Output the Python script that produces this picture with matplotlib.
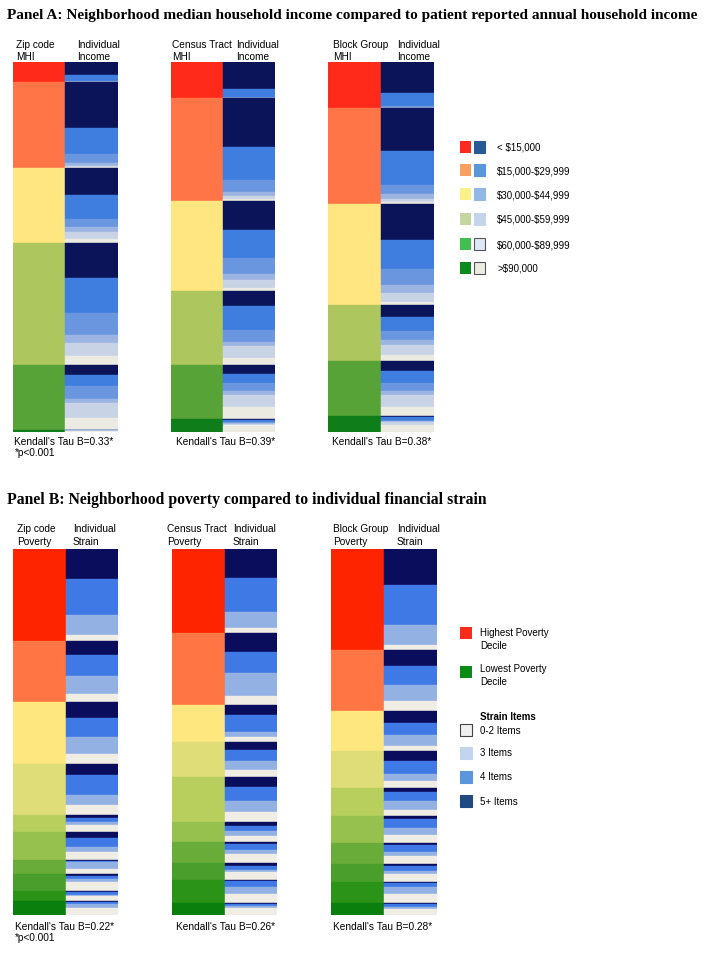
import numpy as np
import matplotlib.pyplot as plt
from matplotlib.patches import Rectangle

W, H = 704, 954

# ---- Panel A: neighborhood MHI shares (relative) ----
mhi_labels = ["< \\$15,000", "\\$15,000-\\$29,999", "\\$30,000-\\$44,999",
              "\\$45,000-\\$59,999", "\\$60,000-\\$89,999", ">\\$90,000"]
zip_mhi = [20, 86, 75, 122, 65, 2]
tract_mhi = [36, 103, 90, 74, 54, 13]
block_mhi = [46, 96, 101, 56, 55, 16]

# individual income split inside each neighborhood group (same 6 categories)
zip_income = [[66, 30, 4, 0, 0, 0],
              [53, 31, 10.5, 3, 1.5, 1],
              [36, 32, 11, 6, 9, 6],
              [29, 28.4, 18, 6.6, 10.9, 7.1],
              [16, 17, 19, 7, 22, 19],
              [0, 10, 10, 10, 30, 40]]
tract_income = [[76, 24, 0, 0, 0, 0],
                [48, 31.6, 11.7, 4, 2.6, 2.3],
                [32, 31, 18, 6, 8.5, 3.7],
                [20, 32, 16, 6, 16, 9],
                [17, 17, 15, 7, 23, 22],
                [5, 20, 5, 5, 15, 50]]
block_income = [[67, 28, 5, 0, 0, 0],
                [45, 35, 10, 5, 3, 2],
                [36, 28, 16.5, 8, 8.5, 3],
                [21, 26, 15.5, 8, 18, 11],
                [18, 22, 14, 8, 21, 16],
                [9, 20, 4, 4, 18, 45]]

# ---- Panel B: poverty deciles (1 = highest poverty) ----
zip_pov = [91.7, 61.6, 61.7, 51, 16.7, 28, 14.3, 16.7, 10, 14.3]
tract_pov = [84, 72, 36.7, 35.6, 44.4, 20, 21.3, 17, 23, 12]
block_pov = [100.7, 61.6, 40, 37, 27.4, 27.3, 21, 18.3, 20.7, 12]

# strain split (5+, 4, 3, 0-2 items) inside each decile
zip_strain = [[32.7, 39.3, 21.5, 6.5], [23, 34.6, 28.6, 13.5],
              [26, 31, 26, 17], [21, 40, 19.6, 19.6], [16, 24, 20, 40],
              [24, 32, 15, 29], [9, 9, 47, 35], [14, 16, 16, 54],
              [10, 33, 13, 44], [12, 14, 23, 51]]
tract_strain = [[35, 40.5, 19, 5.5], [26, 30, 32, 12],
                [27, 45.5, 15, 12], [22, 31, 25, 21.5], [22.5, 30, 25, 22.5],
                [23, 22, 25, 30], [9, 28, 20, 42], [16, 23.5, 16, 45],
                [4, 27.5, 29, 39], [5.5, 22, 17, 55.5]]
block_strain = [[35.4, 40, 19.5, 5], [26, 31.4, 26.5, 16.2],
                [29, 30, 27, 14], [25, 36, 18, 21], [15, 30, 33, 22],
                [12, 34, 24, 29], [9.5, 32, 19, 40], [9, 27, 18, 45],
                [3, 21, 32, 44], [11, 22, 17, 50]]
strain_labels = ["0-2 Items", "3 Items", "4 Items", "5+ Items"]

# colours
mhi_colors = ["#ff2a1a", "#ff7548", "#ffe680", "#aec65e", "#58a338", "#0f7d1a"]
income_colors = ["#0b1459", "#3f7ddf", "#6a96df", "#9bb4e2", "#c8d3e6", "#ecebe2"]
pov_colors = ["#ff2400", "#ff7543", "#ffe780", "#dfdd78", "#b8cf5e",
              "#96c14e", "#6aac3a", "#4a9f2c", "#2a9318", "#0b7f0e"]
strain_colors = ["#0a0c5c", "#3f79e6", "#93b1e3", "#efede4"]

plt.rcParams['font.family'] = ['Liberation Sans', 'DejaVu Sans']
fig = plt.figure(figsize=(W / 100, H / 100), dpi=100)

# overlay axes in pixel coordinates for text and legends
ax0 = fig.add_axes([0, 0, 1, 1])
ax0.set_xlim(0, W)
ax0.set_ylim(H, 0)
ax0.axis('off')


def px_rect(x0, y0, x1, y1):
    return [x0 / W, 1 - y1 / H, (x1 - x0) / W, (y1 - y0) / H]


def draw_pair(rect, groups, group_colors, splits, split_colors):
    ax = fig.add_axes(px_rect(*rect))
    sizes = np.asarray(groups, float)
    sizes = sizes / sizes.sum() * 100
    bottoms = np.concatenate([[0], np.cumsum(sizes)[:-1]])
    ax.bar(np.full(len(sizes), 0.5), sizes, bottom=bottoms, width=1,
           color=group_colors, edgecolor=group_colors, linewidth=0.3)
    for size, bottom, split in zip(sizes, bottoms, splits):
        sp = np.asarray(split, float)
        sp = sp / sp.sum() * size
        sb = bottom + np.concatenate([[0], np.cumsum(sp)[:-1]])
        ax.bar(np.full(len(sp), 1.5), sp, bottom=sb, width=1,
               color=split_colors, edgecolor=split_colors, linewidth=0.3)
    ax.set_xlim(0, 2)
    ax.set_ylim(100, 0)
    ax.axis('off')


fs = 7.3
ls = 1.28

# ---- Panel A ----
ax0.text(7, 15, "Panel A: Neighborhood median household income compared to patient reported annual household income",
         family='Liberation Serif', weight='bold', fontsize=11, va='center', ha='left')

draw_pair((12.7, 63, 117.5, 433), zip_mhi, mhi_colors, zip_income, income_colors)
draw_pair((170.7, 63, 275.3, 433), tract_mhi, mhi_colors, tract_income, income_colors)
draw_pair((328.3, 63, 434, 433), block_mhi, mhi_colors, block_income, income_colors)

heads_a = [(16, "Zip code\nMHI", 77, "Individual\nIncome"),
           (172, "Census Tract\nMHI", 236, "Individual\nIncome"),
           (333, "Block Group\nMHI", 397, "Individual\nIncome")]
for x1, t1, x2, t2 in heads_a:
    ax0.text(x1, 51, t1, fontsize=fs, va='center', ha='left', linespacing=ls)
    ax0.text(x2, 51, t2, fontsize=fs, va='center', ha='left', linespacing=ls)

ax0.text(14.5, 442, "Kendall's Tau B=0.33*", fontsize=fs, va='center')
ax0.text(14.5, 453, "*p<0.001", fontsize=fs, va='center')
ax0.text(176, 442, "Kendall's Tau B=0.39*", fontsize=fs, va='center')
ax0.text(332, 442, "Kendall's Tau B=0.38*", fontsize=fs, va='center')

legend_rows = [148, 171, 195, 220, 245, 269]
legend_left = ["#ff2a1f", "#f9a060", "#fbf08a", "#c5d6a0", "#3fc04f", "#0b8a1e"]
legend_right = ["#2a5a95", "#5a96dc", "#92b8e6", "#c2d5ec", "#dde8f4", "#ecece4"]
for i, (yc, lab) in enumerate(zip(legend_rows, mhi_labels)):
    ax0.add_patch(Rectangle((459.5, yc - 5.8), 11.5, 11.5, color=legend_left[i], lw=0))
    edge = "#555555" if i >= 4 else legend_right[i]
    ax0.add_patch(Rectangle((473.5, yc - 5.8), 11.5, 11.5, facecolor=legend_right[i],
                            edgecolor=edge, lw=0.8))
    ax0.text(497, yc, lab, fontsize=7, va='center')

# ---- Panel B ----
ax0.text(7, 500, "Panel B: Neighborhood poverty compared to individual financial strain",
         family='Liberation Serif', weight='bold', fontsize=11.3, va='center', ha='left')

draw_pair((12.7, 550, 118.3, 916), zip_pov, pov_colors, zip_strain, strain_colors)
draw_pair((171.7, 550, 277.3, 916), tract_pov, pov_colors, tract_strain, strain_colors)
draw_pair((330.7, 550, 437.3, 916), block_pov, pov_colors, block_strain, strain_colors)

heads_b = [(17, "Zip code\nPoverty", 73, "Individual\nStrain"),
           (167, "Census Tract\nPoverty", 233, "Individual\nStrain"),
           (333, "Block Group\nPoverty", 397, "Individual\nStrain")]
for x1, t1, x2, t2 in heads_b:
    ax0.text(x1, 535.5, t1, fontsize=fs, va='center', ha='left', linespacing=ls)
    ax0.text(x2, 535.5, t2, fontsize=fs, va='center', ha='left', linespacing=ls)

ax0.text(15, 927, "Kendall's Tau B=0.22*", fontsize=fs, va='center')
ax0.text(15, 938, "*p<0.001", fontsize=fs, va='center')
ax0.text(176.5, 927, "Kendall's Tau B=0.26*", fontsize=fs, va='center')
ax0.text(333, 927, "Kendall's Tau B=0.28*", fontsize=fs, va='center')

ax0.add_patch(Rectangle((459.5, 628), 12.5, 12, color="#ff2a1a", lw=0))
ax0.text(480, 639.5, "Highest Poverty\nDecile", fontsize=7, va='center', linespacing=ls)
ax0.add_patch(Rectangle((459.5, 667), 12.5, 12, color="#0a8c14", lw=0))
ax0.text(480, 675.5, "Lowest Poverty\nDecile", fontsize=7, va='center', linespacing=ls)
ax0.text(480, 717, "Strain Items", fontsize=7, va='center', weight='bold')

strain_rows = [731, 753.5, 777.5, 802]
strain_legend = ["#f0f0f0", "#c3d5ee", "#5b96dc", "#1f4a80"]
for i, (yc, lab) in enumerate(zip(strain_rows, strain_labels)):
    edge = "#444444" if i == 0 else strain_legend[i]
    ax0.add_patch(Rectangle((459.5, yc - 6), 12.5, 12, facecolor=strain_legend[i],
                            edgecolor=edge, lw=0.8))
    ax0.text(480, yc, lab, fontsize=7, va='center')

fig.savefig("out.png", dpi=100)
